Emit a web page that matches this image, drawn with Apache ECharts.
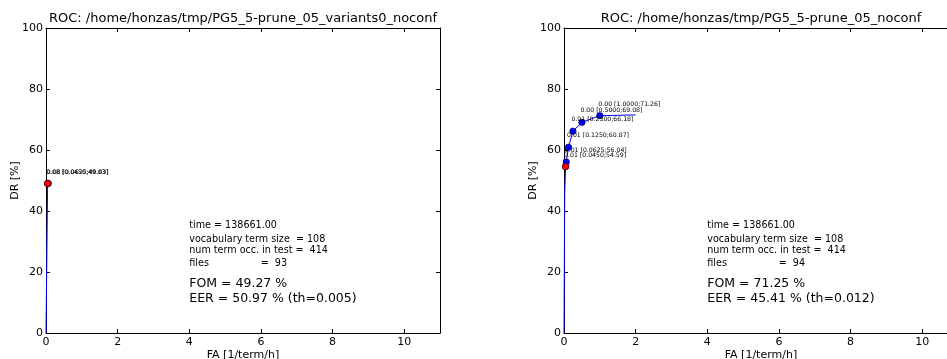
<!DOCTYPE html>
<html>
<head>
<meta charset="utf-8">
<script src="https://cdn.jsdelivr.net/npm/echarts@6/dist/echarts.min.js"></script>
<style>
html,body{margin:0;padding:0;background:#fff;}
#chart{width:947px;height:359px;}
</style>
</head>
<body>
<div id="chart"></div>
<script>
// ---- data ----
const titles = ['ROC: /home/honzas/tmp/PG5_5-prune_05_variants0_noconf', 'ROC: /home/honzas/tmp/PG5_5-prune_05_noconf'];
const xTickLabels = ['0', '2', '4', '6', '8', '10'];
const yTickLabels = ['0', '20', '40', '60', '80', '100'];

const leftCurveFA = [0, 0.045, 0.0625];
const leftCurveDR = [0, 49.03, 49.03];
const leftPtFA = [0.0625, 0.045];
const leftPtDR = [49.03, 49.03];
const leftPtTh = ['0.08', '0.08'];
const leftEerFA = [0.045];
const leftEerDR = [49.03];
const leftInfo = ['time = 138661.00', 'vocabulary term size  = 108', 'num term occ. in test =  414', 'files                 =  93'];
const leftScore = ['FOM = 49.27 %', 'EER = 50.97 % (th=0.005)'];

const rightCurveFA = [0, 0.02, 0.045, 0.0625, 0.125, 0.25, 0.5, 1.0, 2.0];
const rightCurveDR = [0, 46, 54.59, 56.04, 60.87, 66.18, 69.08, 71.26, 71.5];
const rightPtFA = [0.045, 0.0625, 0.125, 0.25, 0.5, 1.0];
const rightPtDR = [54.59, 56.04, 60.87, 66.18, 69.08, 71.26];
const rightPtTh = ['0.01', '0.01', '0.01', '0.01', '0.00', '0.00'];
const rightEerFA = [0.045];
const rightEerDR = [54.59];
const rightInfo = ['time = 138661.00', 'vocabulary term size  = 108', 'num term occ. in test =  414', 'files                 =  94'];
const rightScore = ['FOM = 71.25 %', 'EER = 45.41 % (th=0.012)'];

// ---- layout constants (text anchor positions in data space) ----
const infoX = 4;
const infoY = [35.1, 30.8, 26.9, 22.9];
const scoreY = [16.1, 11.1];

const FONT = 'DejaVu Sans';
const zip = (a, b) => a.map((v, i) => [v, b[i]]);

function axesFor(gi) {
  const xs = [
    {
      type: 'value', gridIndex: gi, min: 0, max: 11, interval: 2, position: 'bottom',
      name: 'FA [1/term/h]', nameLocation: 'middle', nameGap: 17, nameMoveOverlap: false,
      nameTextStyle: { fontFamily: FONT, fontSize: 11, color: '#000' },
      axisLine: { show: true, onZero: false, lineStyle: { color: '#000', width: 1 } },
      axisTick: { show: true, inside: true, length: 4, lineStyle: { color: '#000' } },
      axisLabel: { show: true, margin: 4, fontFamily: FONT, fontSize: 11, color: '#000', showMaxLabel: false,
        formatter: v => xTickLabels.includes(String(v)) ? String(v) : '' },
      splitLine: { show: false }
    },
    {
      type: 'value', gridIndex: gi, min: 0, max: 11, interval: 2, position: 'top',
      axisLine: { show: true, onZero: false, lineStyle: { color: '#000', width: 1 } },
      axisTick: { show: true, inside: true, length: 4, lineStyle: { color: '#000' } },
      axisLabel: { show: false }, splitLine: { show: false }
    }
  ];
  const ys = [
    {
      type: 'value', gridIndex: gi, min: 0, max: 100, interval: 20, position: 'left',
      name: 'DR [%]', nameLocation: 'middle', nameGap: 25, nameMoveOverlap: false,
      nameTextStyle: { fontFamily: FONT, fontSize: 11, color: '#000' },
      axisLine: { show: true, onZero: false, lineStyle: { color: '#000', width: 1 } },
      axisTick: { show: true, inside: true, length: 4, lineStyle: { color: '#000' } },
      axisLabel: { show: true, margin: 3, fontFamily: FONT, fontSize: 11, color: '#000',
        formatter: v => yTickLabels.includes(String(v)) ? String(v) : '' },
      splitLine: { show: false }
    },
    {
      type: 'value', gridIndex: gi, min: 0, max: 100, interval: 20, position: 'right',
      axisLine: { show: true, onZero: false, lineStyle: { color: '#000', width: 1 } },
      axisTick: { show: true, inside: true, length: 4, lineStyle: { color: '#000' } },
      axisLabel: { show: false }, splitLine: { show: false }
    }
  ];
  return { xs, ys };
}

function seriesFor(gi, curveFA, curveDR, ptFA, ptDR, ptTh, eerFA, eerDR, info, score) {
  const xi = gi * 2, yi = gi * 2;
  const s = [];
  s.push({
    type: 'line', xAxisIndex: xi, yAxisIndex: yi, data: zip(curveFA, curveDR),
    showSymbol: false, symbol: 'none', lineStyle: { color: '#0000ff', width: 1 }, z: 3, silent: true, animation: false
  });
  s.push({
    type: 'scatter', xAxisIndex: xi, yAxisIndex: yi,
    data: ptFA.map((v, i) => ({ value: [v, ptDR[i]], th: ptTh[i] })),
    symbol: 'circle', symbolSize: 6.5,
    itemStyle: { color: '#0000ff', borderColor: '#000', borderWidth: 0.5, opacity: 1 }, z: 4,
    label: {
      show: true, position: [2, -8], align: 'left', verticalAlign: 'middle',
      fontFamily: FONT, fontSize: 6.2, color: '#000',
      formatter: p => p.data.th + ' [' + p.value[0].toFixed(4) + ';' + p.value[1].toFixed(2) + ']'
    },
    labelLayout: { hideOverlap: false },
    animation: false
  });
  s.push({
    type: 'scatter', xAxisIndex: xi, yAxisIndex: yi, data: zip(eerFA, eerDR),
    symbol: 'circle', symbolSize: 6.5, itemStyle: { color: '#ff0000', borderColor: '#000', borderWidth: 0.5, opacity: 1 }, z: 5,
    animation: false
  });
  s.push({
    type: 'scatter', xAxisIndex: xi, yAxisIndex: yi, symbolSize: 0, itemStyle: { opacity: 1 },
    data: info.map((t, i) => ({ value: [infoX, infoY[i]], txt: t })),
    label: { show: true, position: 'right', distance: 0, align: 'left', verticalAlign: 'middle',
      fontFamily: FONT, fontSize: 9.6, color: '#000', formatter: p => p.data.txt },
    labelLayout: { hideOverlap: false }, silent: true, animation: false
  });
  s.push({
    type: 'scatter', xAxisIndex: xi, yAxisIndex: yi, symbolSize: 0, itemStyle: { opacity: 1 },
    data: score.map((t, i) => ({ value: [infoX, scoreY[i]], txt: t })),
    label: { show: true, position: 'right', distance: 0, align: 'left', verticalAlign: 'middle',
      fontFamily: FONT, fontSize: 12.5, color: '#000', formatter: p => p.data.txt },
    labelLayout: { hideOverlap: false }, silent: true, animation: false
  });
  return s;
}

const a0 = axesFor(0), a1 = axesFor(1);
const option = {
  backgroundColor: '#fff',
  animation: false,
  textStyle: { fontFamily: FONT },
  title: [
    { text: titles[0], left: 243, top: 12, textAlign: 'center', padding: 0,
      textStyle: { fontFamily: FONT, fontSize: 13, fontWeight: 'normal', color: '#000' } },
    { text: titles[1], left: 761, top: 12, textAlign: 'center', padding: 0,
      textStyle: { fontFamily: FONT, fontSize: 13, fontWeight: 'normal', color: '#000' } }
  ],
  grid: [
    { left: 46, top: 28, width: 394, height: 305, containLabel: false, outerBoundsMode: 'none' },
    { left: 564, top: 28, width: 394, height: 305, containLabel: false, outerBoundsMode: 'none' }
  ],
  xAxis: [...a0.xs, ...a1.xs.map(a => Object.assign({}, a, { gridIndex: 1 }))],
  yAxis: [...a0.ys, ...a1.ys.map(a => Object.assign({}, a, { gridIndex: 1 }))],
  series: [
    ...seriesFor(0, leftCurveFA, leftCurveDR, leftPtFA, leftPtDR, leftPtTh, leftEerFA, leftEerDR, leftInfo, leftScore),
    ...seriesFor(1, rightCurveFA, rightCurveDR, rightPtFA, rightPtDR, rightPtTh, rightEerFA, rightEerDR, rightInfo, rightScore)
  ]
};
const chart = echarts.init(document.getElementById('chart'), null, { renderer: 'canvas' });
chart.setOption(option);
</script>
</body>
</html>
